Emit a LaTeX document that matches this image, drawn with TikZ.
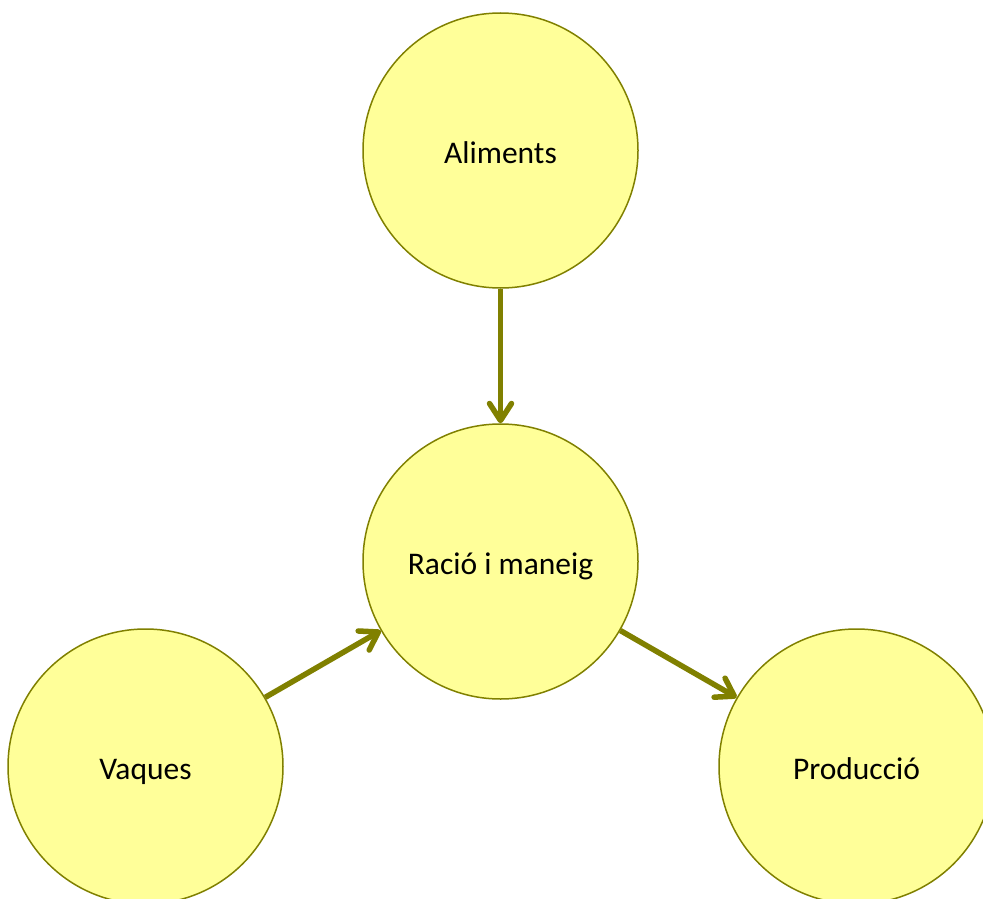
\documentclass[tikz,border=0pt]{standalone}
\usepackage{fontspec}
\setmainfont{Carlito}
\usetikzlibrary{arrows.meta}
\definecolor{olivestroke}{HTML}{808000}
\definecolor{circfill}{HTML}{FFFF99}
\begin{document}
\begin{tikzpicture}[x=1pt,y=-1pt,
  bubble/.style={circle,draw=olivestroke,fill=circfill,line width=1.5pt,minimum size=275pt,inner sep=0pt,text height=26pt,text depth=0pt,font=\fontsize{31.5}{36}\selectfont},
  conn/.style={draw=olivestroke,line width=5.5pt,-{Straight Barb[length=17pt,width=22pt,line cap=round,line join=round]}}]
\useasboundingbox (0,0) rectangle (983,899);
\node[bubble] (alim) at (500.5,150.5) {Aliments};
\node[bubble] (racio) at (500.5,561.5) {Ració i maneig};
\node[bubble] (vaq) at (145.5,766.5) {Vaques};
\node[bubble] (prod) at (856.5,766.5) {Producció};
\draw[conn] (alim) -- (racio);
\draw[conn] (vaq) -- (racio);
\draw[conn] (racio) -- (prod);
\end{tikzpicture}
\end{document}
